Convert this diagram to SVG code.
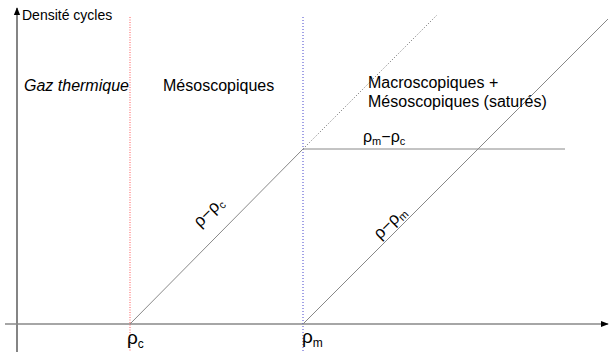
<svg xmlns="http://www.w3.org/2000/svg" width="609" height="352" viewBox="0 0 609 352">
<defs>
<style>
text{font-family:"Liberation Sans",Arial,sans-serif;fill:#000}
.ax{stroke:#333;stroke-width:1.2;fill:none}
.ln{stroke:#888;stroke-width:1;fill:none}
.dot{stroke:#666;stroke-width:1;stroke-dasharray:1 2;fill:none}
</style>
<marker id="ah" viewBox="0 0 10 10" refX="9" refY="5" markerWidth="8" markerHeight="8" orient="auto" markerUnits="userSpaceOnUse"><path d="M0,1 L10,5 L0,9 Z" fill="#000"/></marker>
</defs>
<rect width="609" height="352" fill="#fff"/>
<g id="connectors">
<line class="ax" x1="17" y1="352" x2="17" y2="8" marker-end="url(#ah)"/>
<line x1="5" y1="324" x2="608" y2="324" stroke="#888" stroke-width="1.5" marker-end="url(#ah)"/>
<line x1="130" y1="17" x2="130" y2="352" stroke="#f55" stroke-width="1" stroke-dasharray="1 1.5"/>
<line x1="303" y1="17" x2="303" y2="352" stroke="#44c" stroke-width="1" stroke-dasharray="1 2"/>
<line class="ln" x1="130" y1="324" x2="303" y2="149"/>
<line class="dot" x1="303" y1="149" x2="437" y2="15"/>
<line class="ln" x1="303" y1="149" x2="565" y2="149"/>
<line class="ln" x1="303" y1="324" x2="608" y2="19"/>
</g>
<g id="labels">
<text x="22" y="20" font-size="14">Densité cycles</text>
<text x="24" y="91" font-size="16" font-style="italic">Gaz thermique</text>
<text x="163" y="91" font-size="16">Mésoscopiques</text>
<text x="368" y="88" font-size="16">Macroscopiques +</text>
<text x="368" y="107" font-size="16">Mésoscopiques (saturés)</text>
<text x="363" y="142" font-size="16">ρ<tspan font-size="11" dy="3">m</tspan><tspan dy="-3">−ρ</tspan><tspan font-size="11" dy="3">c</tspan></text>
<text transform="translate(200,228) rotate(-45)" font-size="17">ρ−ρ<tspan font-size="11" dy="3">c</tspan></text>
<text transform="translate(380,240) rotate(-45)" font-size="17">ρ−ρ<tspan font-size="11" dy="3">m</tspan></text>
<text x="127" y="344" font-size="19">ρ<tspan font-size="12" dy="4">c</tspan></text>
<text x="302" y="343" font-size="19">ρ<tspan font-size="12" dy="4">m</tspan></text>
</g>
</svg>
